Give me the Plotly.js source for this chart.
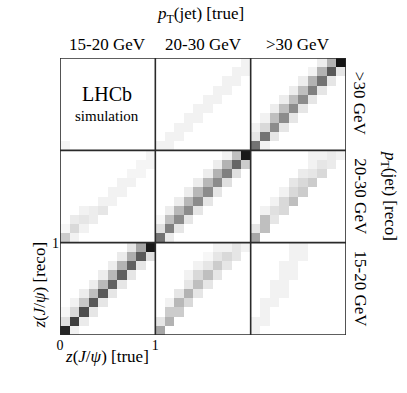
<!DOCTYPE html>
<html>
<head>
<meta charset="utf-8">
<script src="https://cdn.plot.ly/plotly-3.0.1.min.js"></script>
<style>html,body{margin:0;padding:0;background:#fff;}#plot{width:407px;height:393px;}</style>
</head>
<body>
<div id="plot"></div>
<script>
// Column (true pT) and row (reco pT) bin labels
var ptBins = ['15-20 GeV', '20-30 GeV', '>30 GeV'];
var xTickVals = [0, 1];
var xTickText = ['0', '1'];
var yTickVals = [1];
var yTickText = ['1'];

// Response blocks: rows = reco z bin (bottom->top), cols = true z bin (left->right)
// block_T{true}_R{reco}: 0 = 15-20, 1 = 20-30, 2 = >30 GeV
var block_T0_R0 = [
  [0.85,0.05,0,0,0,0,0,0,0,0],
  [0.12,0.75,0.08,0,0,0,0,0,0,0],
  [0.03,0.15,0.70,0.10,0,0,0,0,0,0],
  [0,0.05,0.22,0.65,0.10,0,0,0,0,0],
  [0,0,0.07,0.25,0.65,0.10,0,0,0,0],
  [0,0,0,0.07,0.27,0.62,0.10,0,0,0],
  [0,0,0,0,0.07,0.28,0.62,0.10,0,0],
  [0,0,0,0,0,0.07,0.30,0.62,0.10,0],
  [0,0,0,0,0,0,0.08,0.32,0.65,0.12],
  [0,0,0,0,0,0,0,0.10,0.35,0.90]
];
var block_T1_R0 = [
  [0.35,0,0,0,0,0,0,0,0,0],
  [0.10,0.30,0,0,0,0,0,0,0,0],
  [0,0.20,0.20,0,0,0,0,0,0,0],
  [0,0.05,0.28,0.15,0,0,0,0,0,0],
  [0,0,0.10,0.30,0.10,0,0,0,0,0],
  [0,0,0,0.10,0.25,0.10,0,0,0,0],
  [0,0,0,0.05,0.15,0.25,0.10,0,0,0],
  [0,0,0,0,0.05,0.10,0.20,0.10,0,0],
  [0,0,0,0,0,0.03,0.10,0.15,0.10,0],
  [0,0,0,0,0,0,0.05,0.05,0.10,0.05]
];
var block_T2_R0 = [
  [0.05,0,0,0,0,0,0,0,0,0],
  [0.05,0.05,0,0,0,0,0,0,0,0],
  [0,0.05,0,0,0,0,0,0,0,0],
  [0,0.05,0.05,0,0,0,0,0,0,0],
  [0,0,0.05,0.05,0,0,0,0,0,0],
  [0,0,0.05,0.05,0,0,0,0,0,0],
  [0,0,0,0.05,0.05,0,0,0,0,0],
  [0,0,0,0.05,0.05,0,0,0,0,0],
  [0,0,0,0,0.05,0.05,0,0,0,0],
  [0,0,0,0,0.05,0.05,0,0,0,0]
];
var block_T0_R1 = [
  [0.20,0.05,0,0,0,0,0,0,0,0],
  [0.03,0.15,0.05,0,0,0,0,0,0,0],
  [0,0.08,0.10,0.07,0,0,0,0,0,0],
  [0,0,0.05,0.07,0.10,0,0,0,0,0],
  [0,0,0,0,0.05,0.05,0,0,0,0],
  [0,0,0,0,0,0.05,0.05,0,0,0],
  [0,0,0,0,0,0,0.05,0.05,0,0],
  [0,0,0,0,0,0,0,0.04,0.04,0],
  [0,0,0,0,0,0,0,0,0.04,0.04],
  [0,0,0,0,0,0,0,0,0,0.04]
];
var block_T1_R1 = [
  [0.55,0.08,0,0,0,0,0,0,0,0],
  [0.12,0.50,0.10,0,0,0,0,0,0,0],
  [0.03,0.25,0.45,0.10,0,0,0,0,0,0],
  [0,0.07,0.28,0.45,0.10,0,0,0,0,0],
  [0,0,0.07,0.28,0.45,0.10,0,0,0,0],
  [0,0,0,0.07,0.28,0.45,0.10,0,0,0],
  [0,0,0,0,0.07,0.28,0.45,0.12,0,0],
  [0,0,0,0,0,0.07,0.30,0.50,0.12,0],
  [0,0,0,0,0,0,0.07,0.30,0.60,0.20],
  [0,0,0,0,0,0,0,0.05,0.25,0.90]
];
var block_T2_R1 = [
  [0.35,0,0,0,0,0,0,0,0,0],
  [0.10,0.25,0,0,0,0,0,0,0,0],
  [0,0.25,0.10,0,0,0,0,0,0,0],
  [0,0.05,0.12,0.15,0,0,0,0,0,0],
  [0,0,0.05,0.15,0.25,0,0,0,0,0],
  [0,0,0,0.05,0.15,0.20,0,0,0,0],
  [0,0,0,0,0.10,0.15,0.20,0,0,0],
  [0,0,0,0,0,0.08,0.10,0.15,0,0],
  [0,0,0,0,0,0,0.05,0.10,0.08,0],
  [0,0,0,0,0,0,0.05,0.05,0.08,0.05]
];
var block_T0_R2 = [
  [0.04,0,0,0,0,0,0,0,0,0],
  [0,0,0,0,0,0,0,0,0,0],
  [0,0,0,0,0,0,0,0,0,0],
  [0,0,0,0,0,0,0,0,0,0],
  [0,0,0,0,0,0,0,0,0,0],
  [0,0,0,0,0,0,0,0,0,0],
  [0,0,0,0,0,0,0,0,0,0],
  [0,0,0,0,0,0,0,0,0,0],
  [0,0,0,0,0,0,0,0,0,0],
  [0,0,0,0,0,0,0,0,0,0]
];
var block_T1_R2 = [
  [0.05,0.05,0,0,0,0,0,0,0,0],
  [0,0.05,0.05,0,0,0,0,0,0,0],
  [0,0,0.05,0.05,0,0,0,0,0,0],
  [0,0,0,0.05,0.05,0,0,0,0,0],
  [0,0,0,0,0.05,0.05,0,0,0,0],
  [0,0,0,0,0,0.05,0.05,0,0,0],
  [0,0,0,0,0,0,0.05,0.05,0,0],
  [0,0,0,0,0,0,0,0.05,0.05,0],
  [0,0,0,0,0,0,0,0,0.05,0.05],
  [0,0,0,0,0,0,0,0,0,0.05]
];
var block_T2_R2 = [
  [0.55,0.05,0,0,0,0,0,0,0,0],
  [0.10,0.55,0.10,0,0,0,0,0,0,0],
  [0.05,0.15,0.45,0.10,0,0,0,0,0,0],
  [0,0.05,0.25,0.45,0.10,0,0,0,0,0],
  [0,0,0.07,0.25,0.45,0.10,0,0,0,0],
  [0,0,0,0.07,0.25,0.45,0.10,0,0,0],
  [0,0,0,0,0.07,0.25,0.50,0.10,0,0],
  [0,0,0,0,0,0.07,0.30,0.55,0.10,0],
  [0,0,0,0,0,0,0.05,0.30,0.65,0.10],
  [0,0,0,0,0,0,0,0.07,0.30,0.92]
];

var blocks = [
  [block_T0_R0, block_T1_R0, block_T2_R0],
  [block_T0_R1, block_T1_R1, block_T2_R1],
  [block_T0_R2, block_T1_R2, block_T2_R2]
];

var nb = 10;
var xs = [], ys = [], z = [];
for (var i = 0; i < 3 * nb; i++) { xs.push((i + 0.5) / nb); ys.push((i + 0.5) / nb); }
for (var R = 0; R < 3; R++) {
  for (var r = 0; r < nb; r++) {
    var row = [];
    for (var T = 0; T < 3; T++) row = row.concat(blocks[R][T][r]);
    z.push(row);
  }
}

var serif = 'Liberation Serif, Times New Roman, serif';
var lineCol = '#2a2a2a';

var shapes = [{type:'rect', xref:'x', yref:'y', x0:0, x1:3, y0:0, y1:3, line:{color:lineCol, width:1.6}}];
[1, 2].forEach(function (v) {
  shapes.push({type:'line', xref:'x', yref:'y', x0:v, x1:v, y0:0, y1:3, line:{color:lineCol, width:1.6}});
  shapes.push({type:'line', xref:'x', yref:'y', x0:0, x1:3, y0:v, y1:v, line:{color:lineCol, width:1.6}});
});

function A(o) {
  o.showarrow = false;
  o.xanchor = o.xanchor || 'center';
  o.yanchor = o.yanchor || 'middle';
  o.font = o.font || {family:serif, size:17, color:'#000'};
  return o;
}
var ann = [];
ann.push(A({xref:'paper', yref:'paper', x:0.49, y:1.155, text:'<i>p</i><sub>T</sub>(jet) [true]'}));
ptBins.forEach(function (lab, k) {
  ann.push(A({xref:'x', yref:'paper', x:k + 0.5, y:1.05, text:lab}));
  ann.push(A({xref:'paper', yref:'y', x:1.05, y:k + 0.5, text:lab, textangle:90}));
});
ann.push(A({xref:'paper', yref:'y', x:1.152, y:1.5, text:'<i>p</i><sub>T</sub>(jet) [reco]', textangle:90}));
ann.push(A({xref:'paper', yref:'paper', x:-0.072, y:0.18, text:'<i>z</i>(<i>J</i>/<i>ψ</i>) [reco]', textangle:-90}));
ann.push(A({xref:'paper', yref:'paper', x:0.163, y:-0.077, text:'<i>z</i>(<i>J</i>/<i>ψ</i>) [true]'}));
ann.push(A({xref:'x', yref:'paper', x:0.49, y:0.87, text:'LHCb', font:{family:serif, size:20, color:'#000'}}));
ann.push(A({xref:'x', yref:'paper', x:0.49, y:0.79, text:'simulation', font:{family:serif, size:15, color:'#000'}}));

var data = [{
  type:'heatmap', x:xs, y:ys, z:z, zmin:0, zmax:1,
  colorscale:[[0,'#ffffff'],[1,'#000000']], showscale:false, hoverinfo:'skip'
}];

var layout = {
  width:407, height:393,
  margin:{l:60, r:61, t:58, b:58},
  paper_bgcolor:'#fff', plot_bgcolor:'#fff',
  showlegend:false,
  xaxis:{range:[0,3], showgrid:false, zeroline:false, showline:false, tickvals:xTickVals, ticktext:xTickText, ticks:'', ticklabelstandoff:0, tickfont:{family:serif, size:14, color:'#000'}, fixedrange:true},
  yaxis:{range:[0,3], showgrid:false, zeroline:false, showline:false, tickvals:yTickVals, ticktext:yTickText, ticks:'', tickfont:{family:serif, size:14, color:'#000'}, fixedrange:true},
  shapes:shapes,
  annotations:ann
};

Plotly.newPlot('plot', data, layout, {staticPlot:true, displayModeBar:false});
</script>
</body>
</html>
